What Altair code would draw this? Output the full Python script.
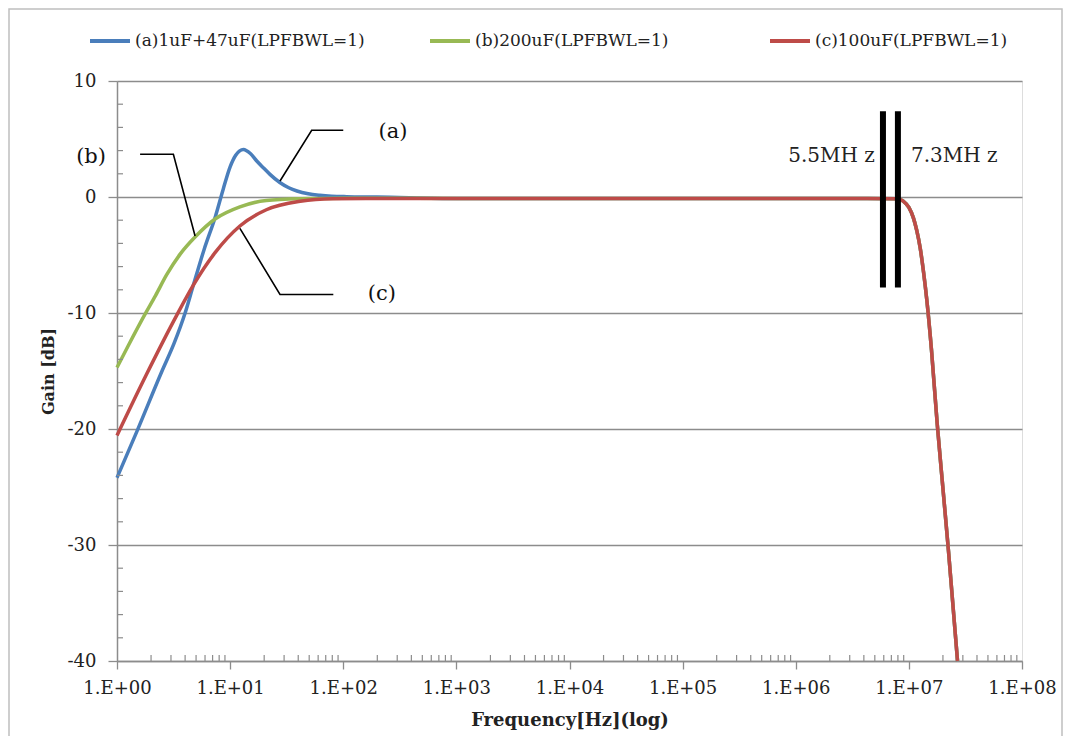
import altair as alt
import pandas as pd

# ---------------- data ----------------
series_names = ["(a)1uF+47uF(LPFBWL=1)", "(b)200uF(LPFBWL=1)", "(c)100uF(LPFBWL=1)"]
series_colors = ["#4A7EBB", "#98B954", "#BE4B48"]

# low-frequency part of each curve (Hz, dB)
freq_a = [1, 1.5, 2.5, 3.2, 4, 4.7, 5.9, 7.4, 8.7, 10, 11.2, 13.1, 15.1, 17.2, 20, 22.5,
          27.5, 33, 39, 49, 62, 79, 107, 200]
gain_a = [-24.2, -20.2, -15, -12.6, -10, -7.7, -4.5, -1.7, 0.7, 2.6, 3.6, 4.1, 3.75, 3.1, 2.45, 1.95,
          1.25, 0.8, 0.52, 0.28, 0.15, 0.07, 0.03, 0]

freq_b = [1, 1.26, 1.77, 2.19, 2.75, 3.63, 4.9, 7.36, 12.2, 20.9, 41.7, 100, 200]
gain_b = [-14.7, -12.8, -10.1, -8.5, -6.7, -4.9, -3.45, -1.9, -0.85, -0.3, -0.15, -0.1, -0.1]

freq_c = [1, 1.82, 3.37, 4.73, 7.36, 12.2, 20.9, 41.7, 81.3, 200]
gain_c = [-20.55, -15.3, -10.2, -7.6, -4.8, -2.5, -1.1, -0.37, -0.15, -0.12]

# common high-frequency roll-off (Hz, dB)
freq_hf = [1e3, 1e5, 3e6, 7.94e6, 8.91e6, 1.0e7, 1.096e7, 1.175e7, 1.259e7, 1.349e7,
           1.445e7, 1.585e7, 1.778e7, 1.995e7, 2.239e7, 2.692e7]
gain_hf = [-0.12, -0.12, -0.12, -0.15, -0.35, -0.9, -1.8, -2.9, -4.4, -6.5,
           -9.0, -13.2, -19.5, -25, -30.5, -40]

# axis ticks
x_ticks = [1, 10, 100, 1e3, 1e4, 1e5, 1e6, 1e7, 1e8]
y_ticks = [10, 0, -10, -20, -30, -40]
y_minor = [8, 6, 4, 2, -2, -4, -6, -8, -12, -14, -16, -18, -22, -24, -26, -28,
           -32, -34, -36, -38]
x_minor = [m * d for d in [1, 10, 100, 1e3, 1e4, 1e5, 1e6, 1e7] for m in range(2, 10)]

# annotation leaders
leader_id = ["a", "a", "a", "b", "b", "b", "c", "c", "c"]
leader_f = [27.6, 52.6, 100, 4.9, 3.15, 1.6, 12.2, 27.6, 81.7]
leader_g = [1.38, 5.75, 5.75, -3.36, 3.68, 3.68, -2.7, -8.4, -8.4]

label_text = ["(a)", "(b)", "(c)"]
label_f = [275, 0.59, 219]
label_g = [5.6, 3.45, -8.36]

marker_f = [5.9e6, 8.0e6]
marker_top = [7.4, 7.4]
marker_bottom = [-7.8, -7.8]

marker_text = ["5.5MH z", "7.3MH z"]
marker_text_f = [5.0e6, 1.045e7]
marker_text_g = [3.5, 3.5]

# ---------------- tables ----------------
rows = []
for name, fl, gl in [(series_names[0], freq_a, gain_a),
                     (series_names[1], freq_b, gain_b),
                     (series_names[2], freq_c, gain_c)]:
    for i, (f, g) in enumerate(list(zip(fl, gl)) + list(zip(freq_hf, gain_hf))):
        rows.append({"series": name, "f": f, "g": g, "i": i})
df = pd.DataFrame(rows)

GRID = "#8C8C8C"
FONT = "DejaVu Serif"
W, H = 905, 580

xscale = alt.Scale(type="log", domain=[1, 1e8])
yscale = alt.Scale(domain=[-40, 10])

lines = alt.Chart(df).mark_line(strokeWidth=3.5, interpolate="monotone").encode(
    x=alt.X("f:Q", scale=xscale,
            axis=alt.Axis(values=x_ticks, grid=False, labelFlush=False,
                          labelExpr="'1.E+0' + round(log(datum.value) / LN10)",
                          labelFont=FONT, labelFontSize=18, labelColor="#222",
                          labelPadding=10, tickSize=8, tickColor=GRID, tickWidth=1.3,
                          domainColor=GRID, domainWidth=1.5,
                          title="Frequency[Hz](log)", titleFont=FONT,
                          titleFontWeight="bold", titleFontSize=18, titleColor="#222",
                          titlePadding=14)),
    y=alt.Y("g:Q", scale=yscale,
            axis=alt.Axis(values=y_ticks, grid=True, gridColor=GRID, gridWidth=1.3,
                          labelFlush=False, labelExpr="'' + datum.value",
                          labelFont=FONT, labelFontSize=18, labelColor="#222",
                          labelPadding=12, tickSize=9, tickColor=GRID, tickWidth=1.3,
                          domainColor=GRID, domainWidth=1.5,
                          title="Gain [dB]", titleFont=FONT, titleFontWeight="bold",
                          titleFontSize=16, titleColor="#222", titlePadding=11)),
    color=alt.Color("series:N",
                    scale=alt.Scale(domain=series_names, range=series_colors),
                    legend=alt.Legend(title=None, orient="none", legendX=-29, legendY=-62,
                                      direction="horizontal", symbolType="stroke",
                                      symbolSize=1600, symbolStrokeWidth=4,
                                      labelFont=FONT, labelFontSize=17, labelColor="#222",
                                      labelOffset=3, labelLimit=500, columnPadding=57,
                                      gridAlign="all", padding=0)),
    order=alt.Order("i:Q"),
)

minor_y = alt.Chart(pd.DataFrame({"g": y_minor})).mark_rule(color=GRID, strokeWidth=1.2).encode(
    y=alt.Y("g:Q", scale=yscale), x=alt.value(0), x2=alt.value(6))
minor_x = alt.Chart(pd.DataFrame({"f": x_minor})).mark_rule(color=GRID, strokeWidth=1.2).encode(
    x=alt.X("f:Q", scale=xscale), y=alt.value(H - 6), y2=alt.value(H))

leaders = alt.Chart(pd.DataFrame({"id": leader_id, "f": leader_f, "g": leader_g,
                                  "k": list(range(len(leader_id)))})).mark_line(
    color="black", strokeWidth=1.6).encode(
    x=alt.X("f:Q", scale=xscale), y=alt.Y("g:Q", scale=yscale),
    detail="id:N", order="k:Q")

labels = alt.Chart(pd.DataFrame({"t": label_text, "f": label_f, "g": label_g})).mark_text(
    font=FONT, fontSize=21, color="#111", align="center", baseline="middle").encode(
    x=alt.X("f:Q", scale=xscale), y=alt.Y("g:Q", scale=yscale), text="t:N")

markers = alt.Chart(pd.DataFrame({"f": marker_f, "g": marker_top, "g2": marker_bottom})).mark_rule(
    color="black", strokeWidth=6).encode(
    x=alt.X("f:Q", scale=xscale), y=alt.Y("g:Q", scale=yscale), y2="g2:Q")

mtext_r = alt.Chart(pd.DataFrame({"t": marker_text[:1], "f": marker_text_f[:1],
                                  "g": marker_text_g[:1]})).mark_text(
    font=FONT, fontSize=20, color="#222", align="right", baseline="middle").encode(
    x=alt.X("f:Q", scale=xscale), y=alt.Y("g:Q", scale=yscale), text="t:N")
mtext_l = alt.Chart(pd.DataFrame({"t": marker_text[1:], "f": marker_text_f[1:],
                                  "g": marker_text_g[1:]})).mark_text(
    font=FONT, fontSize=20, color="#222", align="left", baseline="middle").encode(
    x=alt.X("f:Q", scale=xscale), y=alt.Y("g:Q", scale=yscale), text="t:N")

frame = alt.Chart(pd.DataFrame({"z": [0]})).mark_rect(
    filled=False, stroke="#BFBFBF", strokeWidth=1.5, clip=False).encode(
    x=alt.value(-108), x2=alt.value(945), y=alt.value(-72), y2=alt.value(700))

chart = alt.layer(lines, frame, minor_y, minor_x, leaders, markers, labels, mtext_r, mtext_l).properties(
    width=W, height=H,
    autosize=alt.AutoSizeParams(type="none"),
    padding={"left": 109, "top": 73, "right": 43, "bottom": 75},
).configure_view(strokeWidth=0).configure(background="white")

chart.save("out.html", embed_options={"renderer": "svg", "actions": False})
